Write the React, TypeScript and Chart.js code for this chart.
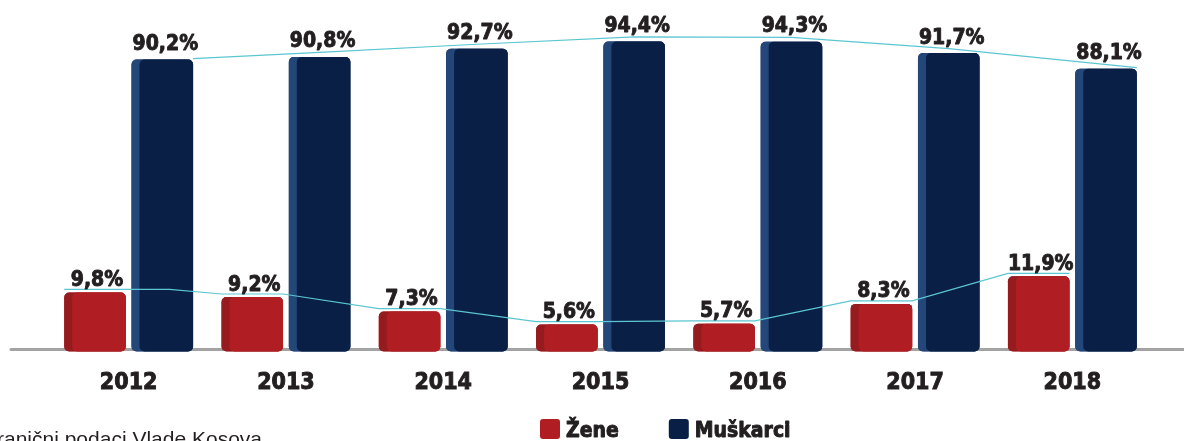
import React, { useEffect, useRef } from 'react';
import { Chart, registerables } from 'chart.js';

Chart.register(...registerables);

const years = ['2012', '2013', '2014', '2015', '2016', '2017', '2018'];
const zene = [9.8, 9.2, 7.3, 5.6, 5.7, 8.3, 11.9];
const muskarci = [90.2, 90.8, 92.7, 94.4, 94.3, 91.7, 88.1];
const seriesNames = ['Žene', 'Muškarci'];
const sourceText = 'Izvor: Granični podaci Vlade Kosova';

// value-axis ranges (the original chart uses truncated, separate scales)
const menAxis = { min: 22.6, max: 98.9 };
const womenAxis = { min: 2.1, max: 45.1 };

const FONT = "'DejaVu Sans Condensed', 'DejaVu Sans', sans-serif";
const INK = '#231F20';
const FACE = ['#B01E23', '#0A1F45'];
const STRIP = ['#951B1F', '#24477A'];
const LINE = '#5BC6D1';

const fmt = (v: number) => v.toFixed(1).replace('.', ',') + '%';

const boldText = (ctx: any, t: string, x: number, y: number) => {
  ctx.strokeText(t, x, y);
  ctx.fillText(t, x, y);
};

const decor = {
  id: 'decor',
  beforeDatasetsDraw(chart: any) {
    const ctx = chart.ctx;
    const { bottom } = chart.chartArea;
    ctx.save();
    ctx.strokeStyle = '#A3A3A3';
    ctx.lineWidth = 3;
    ctx.lineCap = 'round';
    ctx.beginPath();
    ctx.moveTo(11, bottom - 2);
    ctx.lineTo(chart.width + 5, bottom - 2);
    ctx.stroke();
    ctx.restore();
  },
  afterDatasetsDraw(chart: any) {
    const ctx = chart.ctx;
    const metas = chart.data.datasets.map((_: any, i: number) => chart.getDatasetMeta(i));
    // 3D strip + face
    metas.forEach((meta: any, di: number) => {
      meta.data.forEach((el: any) => {
        const { x, y, base, width } = el.getProps(['x', 'y', 'base', 'width'], true);
        const left = x - width / 2;
        const h = base - y;
        ctx.save();
        ctx.fillStyle = STRIP[di];
        ctx.beginPath();
        ctx.roundRect(left, y, width, h, 5);
        ctx.fill();
        ctx.fillStyle = FACE[di];
        ctx.beginPath();
        ctx.roundRect(left + 8, y, width - 8, h, 5);
        ctx.fill();
        ctx.restore();
      });
    });
    // connector lines
    ctx.save();
    ctx.strokeStyle = LINE;
    ctx.lineWidth = 1.2;
    // women
    ctx.beginPath();
    metas[0].data.forEach((el: any, i: number) => {
      const { x, y, width } = el.getProps(['x', 'y', 'width'], true);
      const l = x - width / 2, r = x + width / 2;
      if (i === 0) ctx.moveTo(l, y - 3);
      else ctx.lineTo(l, y - 3);
      ctx.lineTo(i === 0 ? r + 44 : r, y - 3);
    });
    ctx.stroke();
    // men
    ctx.beginPath();
    const n = metas[1].data.length;
    metas[1].data.forEach((el: any, i: number) => {
      const { x, y, width } = el.getProps(['x', 'y', 'width'], true);
      let px = x, py = y - 4.5;
      if (i === 0 || i === n - 1) { px = x + width / 2; py = y - 1; }
      if (i === 0) ctx.moveTo(px, py);
      else ctx.lineTo(px, py);
    });
    ctx.stroke();
    ctx.restore();
    // value labels
    ctx.save();
    ctx.fillStyle = INK;
    ctx.strokeStyle = INK;
    ctx.lineWidth = 0.9;
    ctx.lineJoin = 'round';
    ctx.font = `bold 21px ${FONT}`;
    ctx.textAlign = 'center';
    ctx.textBaseline = 'alphabetic';
    metas.forEach((meta: any, di: number) => {
      const vals = chart.data.datasets[di].data;
      meta.data.forEach((el: any, i: number) => {
        const { x, y } = el.getProps(['x', 'y'], true);
        boldText(ctx, fmt(vals[i]), x + (di === 0 ? 2 : 3), y - (di === 0 ? 6.5 : 9.5));
      });
    });
    ctx.restore();
  },
  afterDraw(chart: any) {
    const ctx = chart.ctx;
    ctx.save();
    // legend
    ctx.font = `bold 21px ${FONT}`;
    ctx.textBaseline = 'alphabetic';
    ctx.textAlign = 'left';
    ctx.strokeStyle = INK;
    ctx.lineWidth = 0.9;
    ctx.lineJoin = 'round';
    let lx = 540;
    chart.data.datasets.forEach((ds: any, i: number) => {
      ctx.fillStyle = FACE[i];
      ctx.beginPath();
      ctx.roundRect(lx, 419, 20, 20, 3);
      ctx.fill();
      ctx.fillStyle = INK;
      boldText(ctx, ds.label, lx + 26, 437);
      lx += 26 + ctx.measureText(ds.label).width + 50;
    });
    // source
    ctx.font = `21px 'Liberation Sans', Arial, sans-serif`;
    ctx.textAlign = 'right';
    ctx.fillStyle = INK;
    ctx.fillText(sourceText, 262, 446);
    ctx.restore();
  },
};

export default function App() {
  const ref = useRef<HTMLCanvasElement>(null);
  useEffect(() => {
    if (!ref.current) return;
    const chart = new Chart(ref.current, {
      type: 'bar',
      data: {
        labels: years,
        datasets: [
          {
            label: seriesNames[0],
            data: zene,
            base: womenAxis.min,
            backgroundColor: FACE[0],
            yAxisID: 'y2',
            categoryPercentage: 0.856,
            barPercentage: 0.914,
            borderRadius: 5,
            borderSkipped: false,
          },
          {
            label: seriesNames[1],
            data: muskarci,
            base: menAxis.min,
            backgroundColor: FACE[1],
            yAxisID: 'y',
            categoryPercentage: 0.856,
            barPercentage: 0.914,
            borderRadius: 5,
            borderSkipped: false,
          },
        ],
      },
      options: {
        responsive: false,
        animation: false,
        layout: { padding: { left: 50, right: 33, top: 22, bottom: 26 } },
        plugins: { legend: { display: false }, tooltip: { enabled: false } },
        scales: {
          x: {
            grid: { display: false, drawTicks: false },
            border: { display: false },
            ticks: {
              color: INK,
              font: { family: FONT, size: 23, weight: 'bold' },
              padding: 18,
              textStrokeColor: INK,
              textStrokeWidth: 0.9,
            },
          },
          y: { display: false, min: menAxis.min, max: menAxis.max },
          y2: { display: false, min: womenAxis.min, max: womenAxis.max },
        },
      },
      plugins: [decor],
    } as any);
    return () => chart.destroy();
  }, []);
  return (
    <div style={{ position: 'fixed', left: 0, top: 0, width: 1184, height: 441, background: '#fff' }}>
      <canvas ref={ref} width={1184} height={441} style={{ display: 'block' }} />
    </div>
  );
}
